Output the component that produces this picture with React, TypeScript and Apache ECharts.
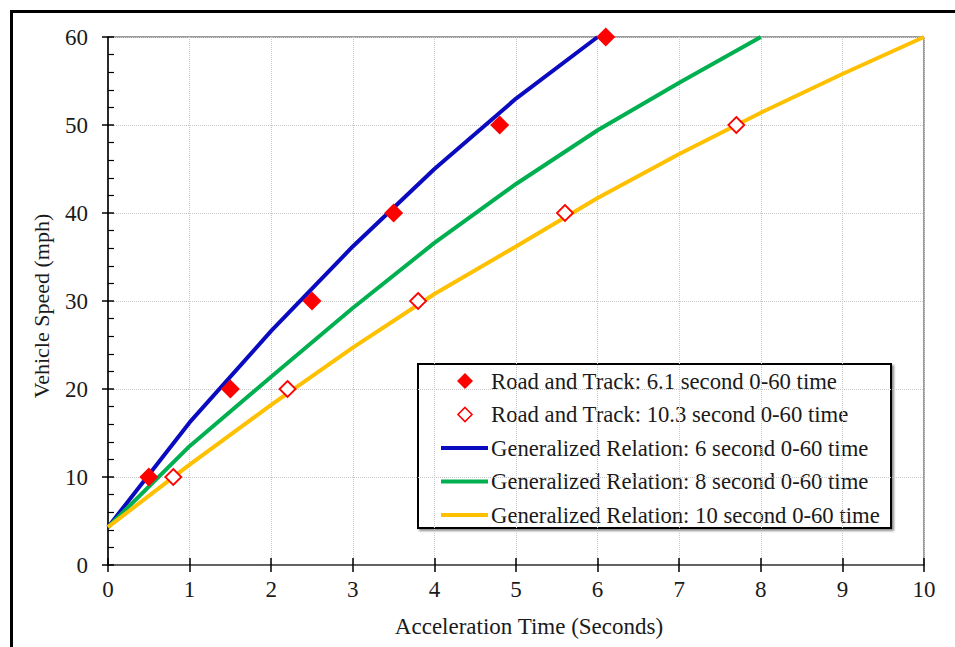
import React, { useEffect, useRef } from "react";
import * as echarts from "echarts";

const FONT = "Liberation Serif";

const xTicks = [0, 1, 2, 3, 4, 5, 6, 7, 8, 9, 10];
const yTicks = [0, 10, 20, 30, 40, 50, 60];

const rtFast: [number, number][] = [
  [0.5, 10], [1.5, 20], [2.5, 30], [3.5, 40], [4.8, 50], [6.1, 60],
];
const rtSlow: [number, number][] = [
  [0.8, 10], [2.2, 20], [3.8, 30], [5.6, 40], [7.7, 50],
];
const gen6: [number, number][] = [
  [0, 4.3], [1, 16.2], [2, 26.6], [3, 36.2], [4, 45], [5, 53], [6, 60],
];
const gen8: [number, number][] = [
  [0, 4.3], [1, 13.5], [2, 21.4], [3, 29.2], [4, 36.6], [5, 43.3], [6, 49.4], [7, 54.8], [8, 60],
];
const gen10: [number, number][] = [
  [0, 4.3], [1, 11.4], [2, 18.2], [3, 24.7], [4, 30.8], [5, 36.2], [6, 41.7], [7, 46.7], [8, 51.4], [9, 55.8], [10, 60],
];

const names = [
  "Road and Track: 6.1 second 0-60 time",
  "Road and Track: 10.3 second 0-60 time",
  "Generalized Relation: 6 second 0-60 time",
  "Generalized Relation: 8 second 0-60 time",
  "Generalized Relation: 10 second 0-60 time",
];

const colors = {
  red: "#ff0000",
  blue: "#0a0ac0",
  green: "#00b050",
  yellow: "#ffc000",
};

function buildLegend() {
  const boxX = 418;
  const boxY = 364;
  const boxW = 473;
  const boxH = 164;
  const rowY0 = 381;
  const rowStep = 33.5;
  const iconX0 = 441;
  const iconX1 = 488;
  const iconCx = 465;
  const textX = 491;
  const children: any[] = [
    {
      type: "rect",
      shape: { x: boxX, y: boxY, width: boxW, height: boxH },
      style: {
        fill: "#fff",
        stroke: "#000",
        lineWidth: 2,
        shadowColor: "rgba(0,0,0,0.45)",
        shadowOffsetX: 2,
        shadowOffsetY: 2,
        shadowBlur: 2,
      },
    },
  ];
  const diamond = (cx: number, cy: number, r: number) => [
    [cx, cy - r], [cx + r, cy], [cx, cy + r], [cx - r, cy],
  ];
  names.forEach((name, i) => {
    const cy = rowY0 + i * rowStep;
    if (i === 0) {
      children.push({ type: "polygon", shape: { points: diamond(iconCx, cy, 8) }, style: { fill: colors.red } });
    } else if (i === 1) {
      children.push({
        type: "polygon",
        shape: { points: diamond(iconCx, cy, 7) },
        style: { fill: "#fff", stroke: colors.red, lineWidth: 1.6 },
      });
    } else {
      const c = [colors.blue, colors.green, colors.yellow][i - 2];
      children.push({
        type: "line",
        shape: { x1: iconX0, y1: cy, x2: iconX1, y2: cy },
        style: { stroke: c, lineWidth: 4 },
      });
    }
    children.push({
      type: "text",
      x: textX,
      y: cy,
      style: {
        text: name,
        fill: "#1a1a1a",
        fontFamily: FONT,
        fontSize: 22.7,
        verticalAlign: "middle",
        align: "left",
      },
    });
  });
  return { type: "group", children, z: 100 };
}

export default function App() {
  const ref = useRef<HTMLDivElement>(null);
  useEffect(() => {
    if (!ref.current) return;
    const chart = echarts.init(ref.current, undefined, { renderer: "svg" });
    const axisLabelStyle = { color: "#1a1a1a", fontFamily: FONT, fontSize: 23 };
    chart.setOption({
      animation: false,
      backgroundColor: "#fff",
      graphic: [
        {
          type: "rect",
          shape: { x: 11.5, y: 11.5, width: 980, height: 680 },
          style: { fill: "none", stroke: "#000", lineWidth: 3 },
          silent: true,
          z: -10,
        },
        buildLegend(),
      ],
      grid: {
        left: 108,
        right: 31,
        top: 37,
        bottom: 82,
        show: true,
        borderColor: "#3a3a3a",
        borderWidth: 1,
      },
      xAxis: [
        {
          type: "value",
          min: 0,
          max: 10,
          interval: 1,
          name: "Acceleration Time (Seconds)",
          nameLocation: "middle",
          nameGap: 50,
          nameTextStyle: { ...axisLabelStyle, padding: [0, 0, 0, 26] },
          axisLine: { show: true, lineStyle: { color: "#4d4d4d", width: 1.5 } },
          axisTick: { show: true, inside: false, length: 7, lineStyle: { color: "#000", width: 1.5 } },
          axisLabel: { ...axisLabelStyle, margin: 13 },
          splitLine: { show: true, lineStyle: { color: "#c8c8c8", type: "dotted", width: 1 } },
        },
        {
          type: "value",
          min: 0,
          max: 10,
          interval: 1,
          position: "bottom",
          axisLine: { show: false },
          axisTick: { show: true, inside: true, length: 7, lineStyle: { color: "#000", width: 1.5 } },
          axisLabel: { show: false },
          splitLine: { show: false },
        },
      ],
      yAxis: [
        {
          type: "value",
          min: 0,
          max: 60,
          interval: 10,
          name: "Vehicle Speed (mph)",
          nameLocation: "middle",
          nameGap: 56,
          nameTextStyle: { ...axisLabelStyle, fontSize: 22, padding: [0, 10, 0, 0] },
          axisLine: { show: true, lineStyle: { color: "#000", width: 1.5 } },
          axisTick: { show: true, inside: true, length: 6, lineStyle: { color: "#000", width: 1.5 } },
          minorTick: { show: true, splitNumber: 5, length: 6, lineStyle: { color: "#000", width: 1.2 } },
          axisLabel: { ...axisLabelStyle, margin: 20 },
          splitLine: { show: true, lineStyle: { color: "#c8c8c8", type: "dotted", width: 1 } },
        },
        {
          type: "value",
          min: 0,
          max: 60,
          interval: 10,
          position: "left",
          axisLine: { show: false },
          axisTick: { show: true, inside: false, length: 6, lineStyle: { color: "#000", width: 1.5 } },
          axisLabel: { show: false },
          splitLine: { show: false },
        },
      ],
      series: [
        {
          name: names[0],
          type: "scatter",
          data: rtFast,
          symbol: "diamond",
          symbolSize: 19,
          itemStyle: { color: colors.red, opacity: 1 },
          z: 5,
        },
        {
          name: names[1],
          type: "scatter",
          data: rtSlow,
          symbol: "diamond",
          symbolSize: 16,
          itemStyle: { color: "#ffffff", borderColor: colors.red, borderWidth: 1.8, opacity: 1 },
          z: 5,
        },
        {
          name: names[2],
          type: "line",
          data: gen6,
          symbol: "none",
          lineStyle: { color: colors.blue, width: 4 },
          itemStyle: { color: colors.blue },
          z: 3,
        },
        {
          name: names[3],
          type: "line",
          data: gen8,
          symbol: "none",
          lineStyle: { color: colors.green, width: 4 },
          itemStyle: { color: colors.green },
          z: 3,
        },
        {
          name: names[4],
          type: "line",
          data: gen10,
          symbol: "none",
          lineStyle: { color: colors.yellow, width: 4 },
          itemStyle: { color: colors.yellow },
          z: 3,
        },
      ],
    });
    return () => chart.dispose();
  }, []);
  return <div ref={ref} style={{ width: 955, height: 647, position: "absolute", left: 0, top: 0 }} />;
}
